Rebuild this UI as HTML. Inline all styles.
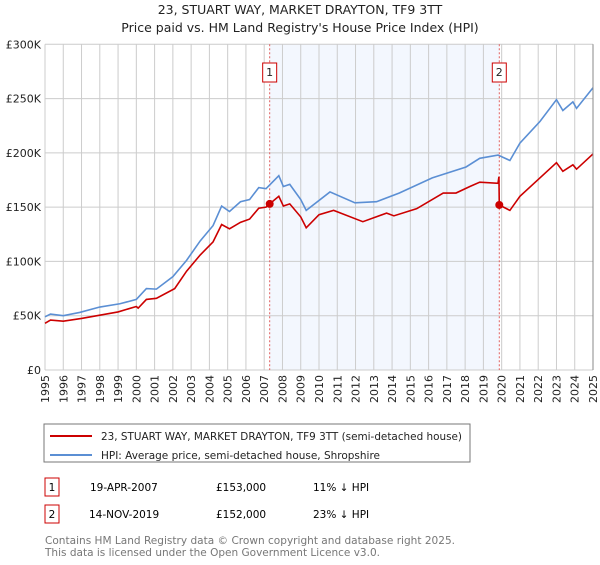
<!DOCTYPE html>
<html><head><meta charset="utf-8"><style>
body{margin:0;background:#fff;font-family:"Liberation Sans","DejaVu Sans",sans-serif;}
svg text{font-family:"DejaVu Sans","Liberation Sans",sans-serif;}
</style></head><body>
<svg id="c" width="600" height="560" xmlns="http://www.w3.org/2000/svg">
<text x="300" y="14" text-anchor="middle" font-size="12.5" fill="#222">23, STUART WAY, MARKET DRAYTON, TF9 3TT</text>
<text x="300" y="32" text-anchor="middle" font-size="12.5" fill="#222">Price paid vs. HM Land Registry's House Price Index (HPI)</text>
<g id="plot"></g>
<rect x="44" y="424" width="426" height="38" fill="#fff" stroke="#777"/>
<line x1="50" y1="436" x2="92" y2="436" stroke="#cc0000" stroke-width="2"/>
<text x="101" y="440" font-size="10.5" textLength="361" lengthAdjust="spacingAndGlyphs" fill="#222">23, STUART WAY, MARKET DRAYTON, TF9 3TT (semi-detached house)</text>
<line x1="50" y1="455" x2="92" y2="455" stroke="#5b8fd4" stroke-width="2"/>
<text x="101" y="459" font-size="10.5" textLength="279" lengthAdjust="spacingAndGlyphs" fill="#222">HPI: Average price, semi-detached house, Shropshire</text>
<g>
<rect x="45" y="478" width="14" height="18" fill="#fff" stroke="#cc0000"/>
<text x="52" y="491" text-anchor="middle" font-size="10.5">1</text>
<text x="90" y="491" font-size="10.5">19-APR-2007</text>
<text x="216" y="491" font-size="10.5">£153,000</text>
<text x="313" y="491" font-size="10.5">11% ↓ HPI</text></g>
<g>
<rect x="45" y="505" width="14" height="18" fill="#fff" stroke="#cc0000"/>
<text x="52" y="518" text-anchor="middle" font-size="10.5">2</text>
<text x="89" y="518" font-size="10.5">14-NOV-2019</text>
<text x="216" y="518" font-size="10.5">£152,000</text>
<text x="313" y="518" font-size="10.5">23% ↓ HPI</text></g>
<text x="45" y="544" font-size="11" textLength="410" lengthAdjust="spacingAndGlyphs" fill="#777">Contains HM Land Registry data © Crown copyright and database right 2025.</text>
<text x="45" y="556" font-size="11" textLength="335" lengthAdjust="spacingAndGlyphs" fill="#777">This data is licensed under the Open Government Licence v3.0.</text>
</svg>
<script>
const yTicks=[0,50,100,150,200,250,300];
const yTickLabels=["£0","£50K","£100K","£150K","£200K","£250K","£300K"];
const years=[1995,1996,1997,1998,1999,2000,2001,2002,2003,2004,2005,2006,2007,2008,2009,2010,2011,2012,2013,2014,2015,2016,2017,2018,2019,2020,2021,2022,2023,2024,2025];
const hpiT=[1995,1995.3,1996,1996.9,1998,1999.1,2000,2000.55,2001.1,2002,2002.75,2003.5,2004.2,2004.67,2005.1,2005.7,2006.2,2006.7,2007.1,2007.8,2008.05,2008.4,2009,2009.3,2010.6,2011.97,2013.15,2014.4,2016.2,2018.05,2018.8,2019.8,2020.45,2021,2022.1,2023,2023.35,2023.9,2024.1,2025];
const hpiV=[49,51.5,50,53,58,61,65,75,74.5,86,101,119,133,151,146,155,157,168,167,179,169,171,157,147,164,154,155,163,177,187,195,198,193,209,229,249,239,247,241,260];
const ppT=[1995,1995.3,1996,1997,1998,1999,2000,2000.1,2000.55,2001.1,2002.1,2002.75,2003.5,2004.2,2004.67,2005.1,2005.7,2006.2,2006.7,2007.1,2007.3,2007.8,2008.05,2008.4,2009,2009.3,2010,2010.8,2012.4,2013.7,2014.1,2015.35,2016.8,2017.5,2018.26,2018.8,2019.8,2019.85,2019.87,2020.45,2021,2022.1,2023,2023.35,2023.9,2024.1,2025];
const ppV=[43,46,45,47.5,50.5,53.5,58.5,57,65,66,75,91,106,118,134,130,136,139,149,150,153,160,151,153,141,131,143,147,136.6,144.5,142,148.6,163,163,169,173,172,178,152,147,160,177,191,183,189,185,199];
const saleT=[2007.3,2019.87];
const saleV=[153,152];
const saleLabels=["1","2"];
const NS="http://www.w3.org/2000/svg";
const X0=45,X1=593,Y0=370,Y1=44.3;
const xs=t=>X0+(t-1995)/30*(X1-X0);
const ys=v=>Y0-v/300*(Y0-Y1);
const g=document.getElementById('plot');
function mk(tag,a){const e=document.createElementNS(NS,tag);for(const k in a)e.setAttribute(k,a[k]);g.appendChild(e);return e;}
let r=mk('rect',{x:xs(saleT[0]),y:Y1,width:xs(saleT[1])-xs(saleT[0]),height:Y0-Y1,fill:'#eef3fd',opacity:0.7});


years.forEach(y=>{const l=mk('line',{x1:xs(y),x2:xs(y),y1:Y1,y2:Y0,stroke:'#ccc'});


const t=mk('text',{x:0,y:0,'font-size':11,fill:'#222','text-anchor':'end',transform:`translate(${xs(y)+4},${Y0+5}) rotate(-90)`});
t.textContent=y;

});
yTicks.forEach((v,i)=>{const l=mk('line',{x1:X0,x2:X1,y1:ys(v),y2:ys(v),stroke:'#ccc'});


const t=mk('text',{x:X0-4,y:ys(v)+4,'font-size':11,fill:'#222','text-anchor':'end'});
t.textContent=yTickLabels[i];

});
saleT.forEach((t,i)=>{const l=mk('line',{x1:xs(t),x2:xs(t),y1:Y1,y2:Y0,stroke:'#e06060','stroke-dasharray':'2,2'});


const b=mk('rect',{x:xs(t)-7,y:63,width:14,height:19,fill:'#fff',stroke:'#cc0000'});


const tx=mk('text',{x:xs(t),y:76,'font-size':11,'text-anchor':'middle',fill:'#222'});
tx.textContent=saleLabels[i];

});
const hp=mk('polyline',{points:hpiT.map((t,i)=>xs(t)+','+ys(hpiV[i])).join(' '),fill:'none',stroke:'#5b8fd4','stroke-width':1.6});


const pp=mk('polyline',{points:ppT.map((t,i)=>xs(t)+','+ys(ppV[i])).join(' '),fill:'none',stroke:'#cc0000','stroke-width':1.6});


saleT.forEach((t,i)=>{const c=mk('circle',{cx:xs(t),cy:ys(saleV[i]),r:4,fill:'#cc0000'});

});
const ax=mk('line',{x1:X1,x2:X1,y1:Y1,y2:Y0,stroke:'#888'});


</script>
</body></html>
